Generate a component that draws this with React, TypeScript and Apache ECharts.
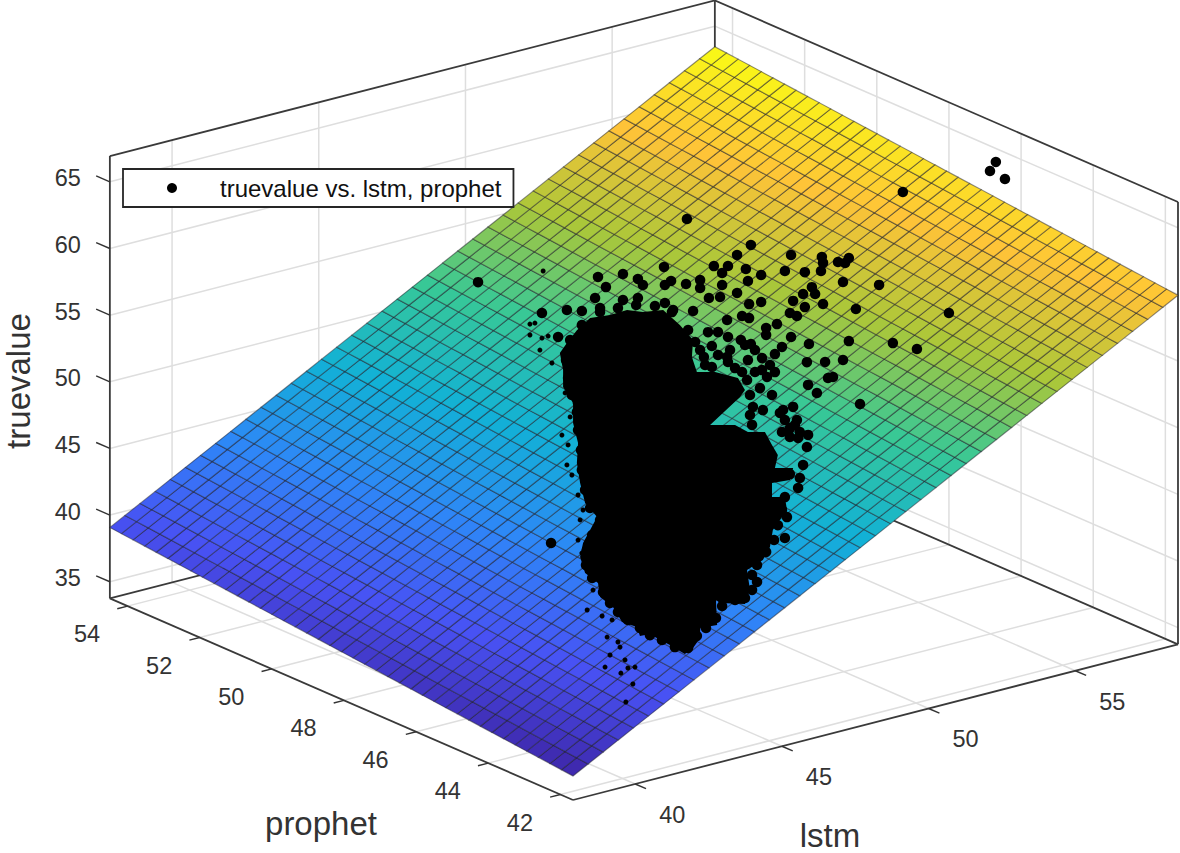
import React, { useEffect, useRef } from "react";
import * as echarts from "echarts";

// ---- axis limits and ticks ----
const lstmLimits = [37.88, 58.5];
const prophetLimits = [41.65, 54.49];
const trueLimits = [33.75, 66.93];
const lstmTicks = [40, 45, 50, 55];
const prophetTicks = [42, 44, 46, 48, 50, 52, 54];
const trueTicks = [35, 40, 45, 50, 55, 60, 65];

// ---- fitted plane: truevalue = p00 + p10*lstm + p01*prophet ----
const fitP00 = -20.68;
const fitP10 = 1.1826;
const fitP01 = 0.2745;
const meshCells = 40;

const legendName = "truevalue vs. lstm, prophet";
const cloudProphet = 46;
// dense core of the cloud, outline as [lstm, truevalue]
const cloudOutline = [
  [42.78,59.38],[43.02,60.0],[43.36,60.77],[43.81,61.42],[44.49,61.27],[45.07,61.31],[45.61,60.85],[46.3,60.61],
  [46.87,59.17],[47.32,57.78],[47.28,56.53],[47.45,55.31],[48.07,54.96],[48.85,54.07],[49.09,53.03],[48.92,52.61],
  [47.9,51.09],[48.75,50.6],[49.19,49.82],[49.77,49.5],[50.01,48.39],[50.21,47.52],[50.11,46.6],[50.73,46.26],
  [50.62,45.41],[50.01,45.54],[50.01,44.48],[50.45,44.23],[50.52,43.22],[50.28,42.61],[50.04,41.99],[49.94,40.77],
  [49.7,39.93],[49.16,39.49],[49.26,37.93],[49.09,36.98],[48.24,37.53],[48.1,37.84],[48.14,35.94],[47.56,36.05],
  [47.56,35.3],[47.32,34.68],[47.04,34.39],[46.53,35.35],[46.02,36.24],[45.68,36.58],[45.51,36.61],[45.41,37.34],
  [44.9,38.01],[44.59,39.3],[44.15,40.3],[44.08,41.39],[43.64,42.39],[43.47,43.69],[43.57,44.68],[43.81,45.52],
  [44.05,46.36],[43.64,47.64],[43.47,49.25],[43.36,50.8],[43.4,52.28],[43.23,53.88],[43.23,55.38],[42.89,56.77],[42.89,58.04],
];
// separately visible markers, [lstm, truevalue]
const cloudPoints = [
  [49.29,63.8],[48.82,63.32],[50.66,62.27],[51.71,61.53],[51.75,61.06],[52.26,60.84],[52.63,60.93],[52.5,60.63],
  [46.33,63.83],[48.03,62.93],[48.51,62.66],[48.31,62.25],[49.12,62.09],[49.64,61.35],[50.45,61.19],[51.13,60.72],
  [51.68,60.49],[52.43,59.24],[44.93,64.09],[44.08,64.35],[44.35,63.44],[45.44,63.43],[45.61,62.88],[46.36,62.46],
  [46.57,62.64],[47.08,62.12],[47.56,62.15],[47.56,61.55],[49.19,61.15],[48.31,61.35],[48.24,60.49],[47.86,60.63],
  [48.82,60.47],[51.37,59.46],[51.07,59.11],[51.48,58.88],[50.73,58.79],[51.13,58.1],[51.75,57.98],[52.87,56.97],
  [49.64,59.32],[49.23,59.4],[50.62,57.94],[50.86,57.58],[47.32,59.96],[48.99,58.64],[49.23,58.35],[48.48,58.63],
  [50.18,57.36],[49.81,57.28],[49.81,56.76],[47.83,58.09],[48.17,57.9],[48.51,57.34],[50.66,56.12],[52.63,54.7],
  [48.95,56.86],[49.29,56.37],[51.27,55.25],[47.96,56.97],[50.35,55.55],[50.11,55.15],[49.67,55.1],[48.48,55.86],
  [47.69,56.3],[51.2,53.93],[51.82,53.59],[52.43,53.39],[47.96,55.4],[49.67,54.2],[48.51,55.46],[47.39,57.6],
  [42.17,62.73],[43.02,62.47],[43.53,62.11],[42.72,60.62],[43.98,62.83],[44.93,62.14],[45.44,62.0],[46.36,61.11],
  [44.15,61.98],[46.64,60.42],[51.24,52.2],[51.54,51.42],[51.92,52.33],[52.09,52.31],[50.01,52.14],[49.16,53.74],
  [48.65,53.81],[49.6,52.89],[49.36,51.61],[49.7,51.18],[50.73,50.84],[50.28,50.64],[50.86,49.78],[50.56,49.05],
  [51.24,48.45],[50.9,48.41],[51.2,47.56],[51.07,46.29],[50.96,45.37],[50.9,44.66],[50.45,44.23],[50.35,43.32],
  [49.26,52.56],[49.26,51.06],[49.33,50.28],[49.84,53.59],[50.39,50.8],[50.45,50.01],[50.79,49.45],[50.35,49.17],
  [50.62,48.64],[50.96,48.82],[50.62,49.31],[50.52,42.69],[50.45,41.16],[49.5,38.4],
];
// markers overlapping the rim of the dense core, [lstm, truevalue]
const rimPoints = [
  [42.99,58.74],[43.06,57.35],[43.19,56.0],[43.36,54.62],[43.4,53.25],[43.5,51.7],[43.53,50.18],[43.64,48.62],
  [43.81,47.17],[44.15,46.08],[43.88,45.1],[43.7,44.08],[43.67,42.97],[43.88,41.88],[44.25,40.62],[44.49,39.66],
  [44.76,38.83],[45.1,38.04],[45.51,37.21],[45.85,36.48],[46.26,35.88],[46.7,35.1],[47.15,34.78],[47.45,35.51],
  [47.76,35.93],[48.1,36.49],[48.31,37.27],[48.75,37.47],[49.09,37.43],[49.33,37.9],[49.33,39.02],[49.5,39.67],
  [49.81,40.48],[50.08,41.22],[50.21,42.26],[43.13,60.16],[43.53,61.06],[44.15,61.68],[44.76,61.63],[45.38,61.51],
  [46.02,61.07],[46.6,60.29],[47.15,58.63],[47.56,56.9],[47.73,55.68],[48.17,56.18],[48.58,56.32],[48.75,54.87],
  [49.19,55.22],[49.43,55.84],[49.09,56.41],[49.94,54.43],[50.11,53.8],[49.43,54.19],[48.99,54.44],[50.62,45.86],[50.11,46.0],
];
// outliers, [lstm, prophet, truevalue]
const isolatedPoints = [
  [42.45,48,62.53],[49.57,48,63.23],[54.47,46,64.84],[57.64,46,65.3],[57.44,46,64.73],[57.95,46,63.84],
  [56.04,46,54.87],[53.66,46,58.33],[54.13,46,53.7],[54.95,46,52.79],[53.01,46,49.76],[42.48,46,45.3],
];
// markers mostly hidden by the surface, [lstm, prophet, truevalue]
const hiddenPoints = [
  [42.21,46,65.86],[41.76,46,62.13],[41.76,46,61.31],[42.17,46,60.85],[42.1,46,59.99],[42.51,46,58.79],[41.93,46,62.11],
  [42.38,46,60.88],[42.96,46,56.29],[43.3,46,55.34],[43.13,46,54.39],[43.57,46,53.69],[42.85,46,53.19],[43.06,46,52.33],
  [43.57,46,51.66],[43.02,46,50.85],[43.19,46,50.0],[43.4,46,48.38],[43.57,46,47.16],[43.47,46,46.47],[43.4,46,45.0],
  [43.53,46,43.95],[43.81,46,41.92],[43.91,46,40.96],[43.71,46,39.58],[44.22,46,38.84],[44.56,46,38.35],[44.39,46,37.16],
  [44.76,46,36.58],[44.83,46,36.16],[44.49,46,35.76],[45.0,46,35.1],[45.34,46,34.37],[45.1,46,34.44],[44.86,46,34.19],
  [44.32,46,34.95],[42.81,44,36.89],[42.57,44,35.68],
];

// ---- parula colour map ----
const parula = [
  [62,38,168],[72,82,244],[46,135,247],[18,177,214],[55,200,151],[171,199,57],[254,195,56],[249,251,21],
];

// ---- fixed orthographic view of the MATLAB axes ----
const project = (l: number, p: number, z: number): number[] => [
  573 + 29.34 * (l - 37.88) - 36.07 * (p - 41.65),
  800 - 7.55 * (l - 37.88) - 15.7 * (p - 41.65) - 13.33 * (z - 33.75),
];
const [L0, L1] = lstmLimits;
const [P0, P1] = prophetLimits;
const [Z0, Z1] = trueLimits;
const fit = (l: number, p: number) => fitP00 + fitP10 * l + fitP01 * p;
const zLow = fit(L0, P0);
const zHigh = fit(L1, P1);
const colorAt = (z: number) => {
  const t = Math.max(0, Math.min(1, (z - zLow) / (zHigh - zLow))) * (parula.length - 1);
  const i = Math.min(parula.length - 2, Math.floor(t));
  const f = t - i;
  const c = parula[i].map((v, k) => Math.round(v + (parula[i + 1][k] - v) * f));
  return `rgb(${c[0]},${c[1]},${c[2]})`;
};

type Seg = number[];
const gridSegs: Seg[] = [];
lstmTicks.forEach((l) => {
  gridSegs.push([l, P0, Z0, l, P1, Z0], [l, P1, Z0, l, P1, Z1]);
});
prophetTicks.forEach((p) => {
  gridSegs.push([L0, p, Z0, L1, p, Z0], [L1, p, Z0, L1, p, Z1]);
});
trueTicks.forEach((z) => {
  gridSegs.push([L0, P1, z, L1, P1, z], [L1, P0, z, L1, P1, z]);
});
const boxSegs: Seg[] = [
  [L0, P1, Z0, L0, P1, Z1], [L0, P1, Z1, L1, P1, Z1], [L1, P1, Z1, L1, P0, Z1], [L1, P0, Z1, L1, P0, Z0],
  [L1, P1, Z0, L1, P1, Z1], [L0, P1, Z0, L1, P1, Z0], [L1, P1, Z0, L1, P0, Z0], [L0, P1, Z0, L0, P0, Z0], [L0, P0, Z0, L1, P0, Z0],
];
const tickSegs: Seg[] = [
  ...lstmTicks.map((l) => [l, P0, Z0, l, P0 - 0.3, Z0]),
  ...prophetTicks.map((p) => [L0, p, Z0, L0 - 0.35, p, Z0]),
  ...trueTicks.map((z) => [L0, P1, z, L0, P1 + 0.38, z]),
];
const tickTexts: { text: string; at: number[]; dx: number; dy: number }[] = [
  ...lstmTicks.map((l) => ({ text: String(l), at: [l, P0, Z0], dx: 37, dy: 31 })),
  ...prophetTicks.map((p) => ({ text: String(p), at: [L0, p, Z0], dx: -40.5, dy: 28 })),
  ...trueTicks.map((z) => ({ text: String(z), at: [L0, P1, z], dx: -42, dy: -3.5 })),
];
const titles = [
  { text: "truevalue", x: 18, y: 381, rot: Math.PI / 2 },
  { text: "prophet", x: 321, y: 823, rot: 0 },
  { text: "lstm", x: 830, y: 835, rot: 0 },
];
const cells: number[][] = [];
for (let i = 0; i < meshCells; i++) for (let j = 0; j < meshCells; j++) cells.push([i, j]);

const FONT = "'Liberation Sans', Arial, sans-serif";

const segSeries = (name: string, segs: Seg[], stroke: string, lineWidth: number) => ({
  type: "custom",
  name,
  silent: true,
  clip: false,
  data: segs.map((_, i) => [i, 0]),
  renderItem: (params: any, api: any) => {
    const s = segs[params.dataIndex];
    const a = api.coord(project(s[0], s[1], s[2]));
    const b = api.coord(project(s[3], s[4], s[5]));
    return { type: "line", shape: { x1: a[0], y1: a[1], x2: b[0], y2: b[1] }, style: { stroke, lineWidth } };
  },
});

export default function App() {
  const ref = useRef<HTMLDivElement>(null);
  useEffect(() => {
    document.body.style.margin = "0";
    const chart = echarts.init(ref.current!, undefined, { renderer: "svg" });
    chart.setOption({
      animation: false,
      backgroundColor: "#fff",
      grid: { left: 0, right: 0, top: 0, bottom: 0 },
      xAxis: { type: "value", min: 0, max: 1180, show: false },
      yAxis: { type: "value", min: 0, max: 853, inverse: true, show: false },
      legend: {
        left: 123,
        top: 169,
        orient: "horizontal",
        data: [{ name: legendName, icon: "circle" }],
        selectedMode: false,
        itemWidth: 10,
        itemHeight: 10,
        backgroundColor: "#fff",
        borderColor: "#262626",
        borderWidth: 1.8,
        padding: [7, 12, 7, 44],
        textStyle: { fontFamily: FONT, fontSize: 24, color: "#111", padding: [0, 0, 0, 38] },
      },
      series: [
        segSeries("grid", gridSegs, "#dedede", 1.5),
        segSeries("box", boxSegs, "#3a3a3a", 1.8),
        segSeries("ticks", tickSegs, "#333", 1.4),
        {
          type: "custom",
          name: "fit",
          silent: true,
          clip: false,
          data: cells,
          renderItem: (params: any, api: any) => {
            const [i, j] = cells[params.dataIndex];
            const dl = (L1 - L0) / meshCells;
            const dp = (P1 - P0) / meshCells;
            const corner = (a: number, b: number) => {
              const l = L0 + a * dl;
              const p = P0 + b * dp;
              return api.coord(project(l, p, fit(l, p)));
            };
            const zc = fit(L0 + (i + 0.5) * dl, P0 + (j + 0.5) * dp);
            return {
              type: "polygon",
              shape: { points: [corner(i, j), corner(i + 1, j), corner(i + 1, j + 1), corner(i, j + 1)] },
              style: { fill: colorAt(zc), stroke: "rgba(30,30,40,0.5)", lineWidth: 1.1 },
            };
          },
        },
        {
          type: "custom",
          name: "cloud core",
          silent: true,
          clip: false,
          data: [[0, 0]],
          renderItem: (_: any, api: any) => ({
            type: "polygon",
            shape: { points: cloudOutline.map((c) => api.coord(project(c[0], cloudProphet, c[1]))) },
            style: { fill: "#000" },
          }),
        },
        {
          type: "scatter",
          name: legendName,
          silent: true,
          symbol: "circle",
          symbolSize: 10.5,
          itemStyle: { color: "#000", opacity: 1 },
          data: [
            ...cloudPoints.map((c) => project(c[0], cloudProphet, c[1])),
            ...rimPoints.map((c) => project(c[0], cloudProphet, c[1])),
            ...isolatedPoints.map((c) => project(c[0], c[1], c[2])),
          ],
        },
        {
          type: "scatter",
          name: "partly hidden",
          silent: true,
          symbol: "circle",
          symbolSize: 5,
          itemStyle: { color: "#000", opacity: 1 },
          data: hiddenPoints.map((c) => project(c[0], c[1], c[2])),
        },
        {
          type: "custom",
          name: "tick labels",
          silent: true,
          clip: false,
          data: tickTexts.map((_, i) => [i, 0]),
          renderItem: (params: any, api: any) => {
            const t = tickTexts[params.dataIndex];
            const a = api.coord(project(t.at[0], t.at[1], t.at[2]));
            return {
              type: "text",
              x: a[0] + t.dx,
              y: a[1] + t.dy,
              style: { text: t.text, fontFamily: FONT, fontSize: 23.5, fill: "#333", align: "center", verticalAlign: "middle" },
            };
          },
        },
        {
          type: "custom",
          name: "axis titles",
          silent: true,
          clip: false,
          data: titles.map((_, i) => [i, 0]),
          renderItem: (params: any) => {
            const t = titles[params.dataIndex];
            return {
              type: "text",
              x: t.x,
              y: t.y,
              rotation: t.rot,
              style: { text: t.text, fontFamily: FONT, fontSize: 33, fill: "#333", align: "center", verticalAlign: "middle" },
            };
          },
        },
      ],
    });
    return () => chart.dispose();
  }, []);
  return <div ref={ref} style={{ position: "absolute", left: 0, top: 0, width: 1180, height: 853 }} />;
}
